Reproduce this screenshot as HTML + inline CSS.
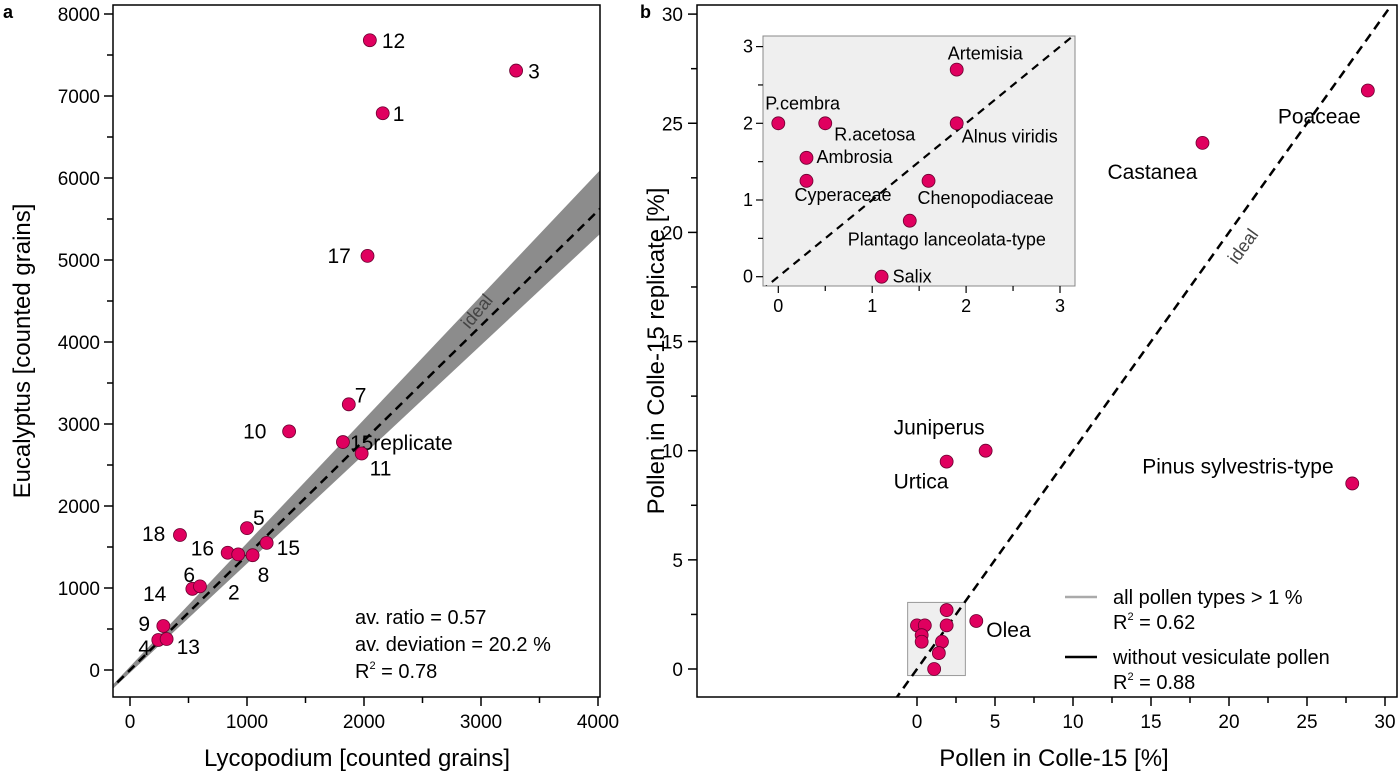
<!DOCTYPE html>
<html><head><meta charset="utf-8"><style>
body{margin:0;background:#fff;}
svg{display:block;font-family:"Liberation Sans",Arial,sans-serif;}
</style></head><body>
<svg id="c" width="1400" height="776" viewBox="0 0 1400 776" xmlns="http://www.w3.org/2000/svg"></svg>
<script>
// ---- Panel a data ----
const aLabels=["12","3","1","17","7","10","15replicate","11","5","18","16","16b","8","15","6","2","9","4","13"];
const aX=[2050,3300,2160,2030,1870,1360,1820,1980,1000,427,835,925,1048,1168,533,598,285,242,313];
const aY=[7680,7310,6790,5050,3240,2910,2780,2640,1730,1646,1430,1410,1400,1550,990,1020,537,366,378];
const aXTicks=[0,1000,2000,3000,4000];
const aYTicks=[0,1000,2000,3000,4000,5000,6000,7000,8000];
// ---- Panel b data ----
const bLabels=["Poaceae","Castanea","Pinus sylvestris-type","Juniperus","Urtica","Olea","Artemisia","P.cembra","R.acetosa","Alnus viridis","Ambrosia","Cyperaceae","Chenopodiaceae","Plantago lanceolata-type","Salix"];
const bX=[28.9,18.3,27.9,4.4,1.9,3.8,1.9,0,0.5,1.9,0.3,0.3,1.6,1.4,1.1];
const bY=[26.5,24.1,8.5,10.0,9.5,2.2,2.7,2.0,2.0,2.0,1.55,1.25,1.25,0.73,0.0];
const bXTicks=[0,5,10,15,20,25,30];
const bYTicks=[0,5,10,15,20,25,30];
const inTicks=[0,1,2,3];

const NS="http://www.w3.org/2000/svg";
const svg=document.getElementById('c');
function el(tag,attrs,parent,text){const e=document.createElementNS(NS,tag);for(const k in attrs)e.setAttribute(k,attrs[k]);if(text!==undefined)e.textContent=text;(parent||svg).appendChild(e);return e;}

const ax=v=>130+v*0.117, ay=v=>670-v*0.082;
const bx=v=>917+v*15.6, by=v=>669-v*21.83;
const ix=v=>778.3+v*93.9, iy=v=>276.7-v*76.7;

const ca=el('clipPath',{id:'ca'});el('rect',{x:113,y:5,width:487,height:692},ca);

// ---- Panel a ----
let g=el('g',{'clip-path':'url(#ca)'});

let band=el('polygon',{points:`${ax(-200)},${ay(-260)} ${ax(4200)},${ay(6370)} ${ax(4200)},${ay(5560)} ${ax(-200)},${ay(-300)}`,fill:'#8c8c8c'},g);

let il=el('line',{x1:ax(-200),y1:ay(-280),x2:ax(4200),y2:ay(5880),stroke:'#000','stroke-width':2.5,'stroke-dasharray':'9,6'},g);

let it=el('text',{x:0,y:0,'font-size':18,fill:'#444',transform:`translate(${ax(2900)},${ay(4150)}) rotate(-50)`},svg,'ideal');

let fa=el('rect',{x:113,y:5,width:487,height:692,fill:'none',stroke:'#000','stroke-width':1.5});

aXTicks.forEach(v=>{el('line',{x1:ax(v),y1:697,x2:ax(v),y2:706,stroke:'#000','stroke-width':1.5});
 const t=el('text',{x:ax(v),y:728,'font-size':19,'text-anchor':'middle'},svg,String(v));
 if(v<4000)el('line',{x1:ax(v+500),y1:697,x2:ax(v+500),y2:703,stroke:'#000','stroke-width':1.5});});
aYTicks.forEach(v=>{el('line',{x1:104,y1:ay(v),x2:113,y2:ay(v),stroke:'#000','stroke-width':1.5});
 const t=el('text',{x:100,y:ay(v)+7,'font-size':19,'text-anchor':'end'},svg,String(v));
 if(v<8000)el('line',{x1:107,y1:ay(v+500),x2:113,y2:ay(v+500),stroke:'#000','stroke-width':1.5});});
const aOff={"12":[12,8],"3":[12,8],"1":[10,8],"17":[-40,7],"7":[6,-2],"10":[-46,7],"15replicate":[7,8],"11":[8,22],"5":[6,-3],"18":[-38,6],"16":[-37,3],"8":[5,27],"15":[10,12],"6":[-9,-7],"2":[28,13],"9":[-25,5],"4":[-20,15],"13":[10,15]};
aX.forEach((v,i)=>{const c=el('circle',{cx:ax(v),cy:ay(aY[i]),r:6.5,fill:'#e0005f',stroke:'#6a0030','stroke-width':0.8});
 
 const o=aOff[aLabels[i]];if(o){const t=el('text',{x:ax(v)+o[0],y:ay(aY[i])+o[1],'font-size':21},svg,aLabels[i]);}});
let t14=el('text',{x:143,y:601,'font-size':21},svg,'14');
[['av. ratio = 0.57',624],['av. deviation = 20.2 %',651]].forEach(s=>{const t=el('text',{x:355,y:s[1],'font-size':20},svg,s[0]);});
let r2a=el('text',{x:355,y:678,'font-size':20},svg);r2a.innerHTML='R<tspan font-size="11" dy="-9">2</tspan><tspan dy="9"> = 0.78</tspan>';

let xt=el('text',{x:357,y:766,'font-size':24,'text-anchor':'middle'},svg,'Lycopodium [counted grains]');
let yt=el('text',{x:0,y:0,'font-size':24,'text-anchor':'middle',transform:'translate(30,351) rotate(-90)'},svg,'Eucalyptus [counted grains]');
let pa=el('text',{x:3,y:18,'font-size':18,'font-weight':'bold'},svg,'a');

// ---- Panel b ----
let zr=el('rect',{x:bx(-0.6),y:by(3.05),width:bx(3.1)-bx(-0.6),height:by(-0.3)-by(3.05),fill:'#efefef',stroke:'#999','stroke-width':1});

const cb=el('clipPath',{id:'cb'});el('rect',{x:697,y:5,width:700,height:692},cb);
let gb=el('g',{'clip-path':'url(#cb)'});
let il2=el('line',{x1:bx(-2),y1:by(-2),x2:bx(31),y2:by(31),stroke:'#000','stroke-width':2.5,'stroke-dasharray':'9,6'},gb);

let it2=el('text',{x:0,y:0,'font-size':18,fill:'#444',transform:`translate(${bx(20.5)},${by(18.5)}) rotate(-54)`},svg,'ideal');
let fb=el('rect',{x:697,y:5,width:700,height:692,fill:'none',stroke:'#000','stroke-width':1.5});
bXTicks.forEach(v=>{el('line',{x1:bx(v),y1:697,x2:bx(v),y2:706,stroke:'#000','stroke-width':1.5});
 const t=el('text',{x:bx(v),y:728,'font-size':19,'text-anchor':'middle'},svg,String(v));
 if(v<30)el('line',{x1:bx(v+2.5),y1:697,x2:bx(v+2.5),y2:703,stroke:'#000','stroke-width':1.5});});
bYTicks.forEach(v=>{el('line',{x1:688,y1:by(v),x2:697,y2:by(v),stroke:'#000','stroke-width':1.5});
 const t=el('text',{x:683,y:by(v)+7,'font-size':19,'text-anchor':'end'},svg,String(v));
 if(v<30)el('line',{x1:691,y1:by(v+2.5),x2:697,y2:by(v+2.5),stroke:'#000','stroke-width':1.5});});
const bOff={"Poaceae":[-90,33],"Castanea":[-95,36],"Pinus sylvestris-type":[-210,-10],"Juniperus":[-92,-16],"Urtica":[-53,27],"Olea":[10,16]};
bX.forEach((v,i)=>{const c=el('circle',{cx:bx(v),cy:by(bY[i]),r:6.5,fill:'#e0005f',stroke:'#6a0030','stroke-width':0.8});
 
 const o=bOff[bLabels[i]];if(o){const t=el('text',{x:bx(v)+o[0],y:by(bY[i])+o[1],'font-size':21},svg,bLabels[i]);}});
let lg=el('g',{});
el('line',{x1:1065,y1:597,x2:1097,y2:597,stroke:'#aaa','stroke-width':2.5},lg);
el('text',{x:1113,y:604,'font-size':20},lg,'all pollen types > 1 %');
el('text',{x:1113,y:629,'font-size':20},lg).innerHTML='R<tspan font-size="11" dy="-9">2</tspan><tspan dy="9"> = 0.62</tspan>';
el('line',{x1:1065,y1:657,x2:1097,y2:657,stroke:'#000','stroke-width':2.5},lg);
el('text',{x:1113,y:664,'font-size':20},lg,'without vesiculate pollen');
el('text',{x:1113,y:689,'font-size':20},lg).innerHTML='R<tspan font-size="11" dy="-9">2</tspan><tspan dy="9"> = 0.88</tspan>';
let xtb=el('text',{x:1054,y:766,'font-size':24,'text-anchor':'middle'},svg,'Pollen in Colle-15 [%]');
let ytb=el('text',{x:0,y:0,'font-size':24,'text-anchor':'middle',transform:'translate(664,351) rotate(-90)'},svg,'Pollen in Colle-15 replicate [%]');
let pb=el('text',{x:640,y:18,'font-size':18,'font-weight':'bold'},svg,'b');

// ---- Inset ----
let ins=el('g',{});
el('rect',{x:763,y:36,width:312,height:250,fill:'#efefef',stroke:'#888','stroke-width':1},ins);
const ci=el('clipPath',{id:'ci'});el('rect',{x:763,y:36,width:312,height:250},ci);
let il3=el('line',{x1:ix(-0.3),y1:iy(-0.3),x2:ix(3.3),y2:iy(3.3),stroke:'#000','stroke-width':2.2,'stroke-dasharray':'8,6','clip-path':'url(#ci)'},ins);

inTicks.forEach(v=>{el('line',{x1:ix(v),y1:286,x2:ix(v),y2:293,stroke:'#000','stroke-width':1.2},ins);
 el('text',{x:ix(v),y:312,'font-size':18,'text-anchor':'middle'},ins,String(v));
 el('line',{x1:756,y1:iy(v),x2:763,y2:iy(v),stroke:'#000','stroke-width':1.2},ins);
 el('text',{x:753,y:iy(v)+6,'font-size':18,'text-anchor':'end'},ins,String(v));
 if(v<3){el('line',{x1:ix(v+0.5),y1:286,x2:ix(v+0.5),y2:291,stroke:'#000','stroke-width':1.2},ins);
 el('line',{x1:758,y1:iy(v+0.5),x2:763,y2:iy(v+0.5),stroke:'#000','stroke-width':1.2},ins);}});
const iOff={"Artemisia":[-9,-10],"P.cembra":[-13,-14],"R.acetosa":[9,17],"Alnus viridis":[5,19],"Ambrosia":[10,5],"Cyperaceae":[-12,20],"Chenopodiaceae":[-11,23],"Plantago lanceolata-type":[-62,25],"Salix":[11,6]};
bX.forEach((v,i)=>{const o=iOff[bLabels[i]];if(!o)return;
 const c=el('circle',{cx:ix(v),cy:iy(bY[i]),r:6.5,fill:'#e0005f',stroke:'#6a0030','stroke-width':0.8});
 
 const t=el('text',{x:ix(v)+o[0],y:iy(bY[i])+o[1],'font-size':18},svg,bLabels[i]);
 });
</script>
</body></html>
